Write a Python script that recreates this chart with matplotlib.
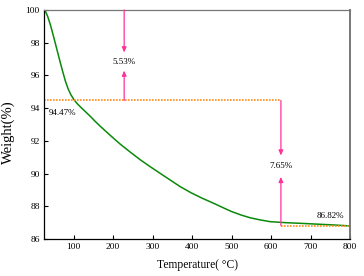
import matplotlib
matplotlib.use("Agg")
import matplotlib.pyplot as plt
import numpy as np

plt.rcParams['font.family'] = ['Liberation Serif', 'DejaVu Serif']

# Data
temperature = [28, 34, 41, 48, 54, 60, 66, 72, 79, 86, 93, 100, 104, 110, 117, 130,
               143, 155, 168, 193, 218, 244, 269, 294, 320, 345, 370, 398, 425, 455,
               478, 501, 525, 547, 572, 598, 636, 674, 716, 758, 800]
weight = [99.95, 99.62, 99.1, 98.48, 97.92, 97.36, 96.8, 96.26, 95.66, 95.18, 94.82,
          94.55, 94.42, 94.25, 94.08, 93.78, 93.48, 93.18, 92.88, 92.33, 91.8, 91.3,
          90.84, 90.42, 90.0, 89.6, 89.2, 88.82, 88.5, 88.18, 87.92, 87.67, 87.46,
          87.3, 87.17, 87.06, 87.0, 86.96, 86.91, 86.86, 86.8]

level_high = 94.47
level_low = 86.82
step_temp = 625
loss1_temp = 228
loss1_label = "5.53%"
loss2_label = "7.65%"
label_high = "94.47%"
label_low = "86.82%"

xticks = [100, 200, 300, 400, 500, 600, 700, 800]
yticks = [86, 88, 90, 92, 94, 96, 98, 100]

fig = plt.figure(figsize=(3.64, 2.76), dpi=100)
ax = fig.add_axes([0.121, 0.134, 0.8405, 0.8298])

ax.plot(temperature, weight, color='#0a8a0a', lw=1.1)

dot = dict(color='#ff8c1a', lw=1.2, linestyle=(0, (1, 0.8)))
ax.plot([25, step_temp], [level_high, level_high], **dot)
ax.plot([step_temp, 800], [level_low, level_low], **dot)

pink = '#ff3399'
ap = dict(arrowstyle='-|>,head_length=0.3,head_width=0.13', color=pink, lw=0.9,
          shrinkA=0, shrinkB=0)
ax.annotate('', xy=(loss1_temp, 97.4), xytext=(loss1_temp, 100), arrowprops=ap)
ax.annotate('', xy=(loss1_temp, 96.3), xytext=(loss1_temp, level_high), arrowprops=ap)
ax.text(loss1_temp, 96.85, loss1_label, ha='center', va='center', fontsize=6.5)

ax.annotate('', xy=(step_temp, 91.1), xytext=(step_temp, level_high), arrowprops=ap)
ax.annotate('', xy=(step_temp, 89.8), xytext=(step_temp, level_low), arrowprops=ap)
ax.text(step_temp, 90.45, loss2_label, ha='center', va='center', fontsize=6.5)

ax.text(36, 93.7, label_high, ha='left', va='center', fontsize=6.5)
ax.text(786, 87.4, label_low, ha='right', va='center', fontsize=6.5)

ax.set_xlim(25, 800)
ax.set_ylim(86, 100)
ax.set_xticks(xticks)
ax.set_yticks(yticks)
ax.tick_params(direction='in', length=3, width=0.8, labelsize=6.8, pad=3)
ax.tick_params(top=False, right=False)

for s in ['left', 'bottom']:
    ax.spines[s].set_color('black')
    ax.spines[s].set_linewidth(0.9)
ax.spines['top'].set_color('#777777')
ax.spines['top'].set_linewidth(0.9)
ax.spines['right'].set_color('#777777')
ax.spines['right'].set_linewidth(1.4)

ax.set_xlabel('Temperature( \u00b0C)', fontsize=8.3)
ax.set_ylabel('Weight(%)', fontsize=10.5)
ax.xaxis.set_label_coords(0.5, -0.115)
ax.yaxis.set_label_coords(-0.118, 0.465)
ax.xaxis.label.set_va('center')
ax.yaxis.label.set_va('center')

fig.savefig('out.png', dpi=100)
